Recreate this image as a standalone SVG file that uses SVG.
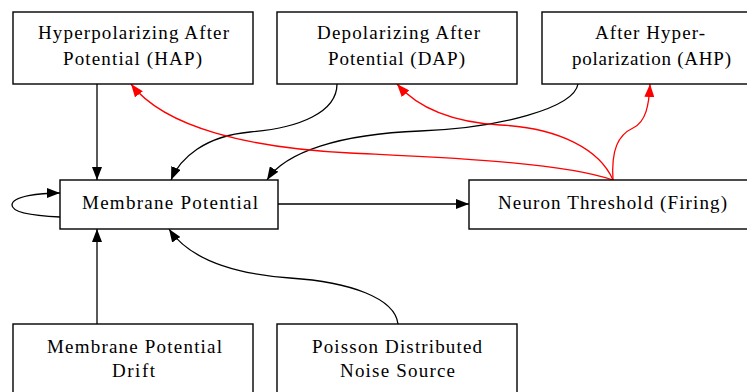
<svg xmlns="http://www.w3.org/2000/svg" width="747" height="392" viewBox="0 0 747 392">
<style>
.box{fill:#fff;stroke:#000;stroke-width:1.4}
.t{font-family:"Liberation Serif","Times New Roman",serif;font-size:19px;fill:#000}
.e{fill:none;stroke:#000;stroke-width:1.3}
.r{fill:none;stroke:#f00;stroke-width:1.3}
</style>
<defs>
<marker id="ab" viewBox="0 0 13 10" refX="13" refY="5" markerWidth="13" markerHeight="10" markerUnits="userSpaceOnUse" orient="auto">
<path d="M0,0 L13,5 L0,10 z" fill="#000"/>
</marker>
<marker id="ar" viewBox="0 0 13 10" refX="13" refY="5" markerWidth="13" markerHeight="10" markerUnits="userSpaceOnUse" orient="auto">
<path d="M0,0 L13,5 L0,10 z" fill="#f00"/>
</marker>
</defs>
<rect width="747" height="392" fill="#fff"/>
<g id="connectors">
<path class="e" d="M97,84 L97,180" marker-end="url(#ab)"/>
<path class="e" d="M337,84 C337,112 300,128 250,132 C205,136 180,158 171,180" marker-end="url(#ab)"/>
<path class="e" d="M578,84 C574,108 500,128 420,131 C340,134 285,152 267,180" marker-end="url(#ab)"/>
<path class="e" d="M60,217 C38,216 12,213 12,205 C12,196 40,193 60,193" marker-end="url(#ab)"/>
<path class="e" d="M278,204 L469,204" marker-end="url(#ab)"/>
<path class="e" d="M97,324 L97,229" marker-end="url(#ab)"/>
<path class="e" d="M398,324 C395,298 350,282 290,278 C235,274 190,260 169,229" marker-end="url(#ab)"/>
<path class="r" d="M613,180 C560,162 450,158 350,153 C250,148 165,128 131,84" marker-end="url(#ar)"/>
<path class="r" d="M613,180 C600,150 560,128 500,125 C450,122 418,108 397,84" marker-end="url(#ar)"/>
<path class="r" d="M613,180 C611,150 618,135 633,128 C646,122 649,105 650,84" marker-end="url(#ar)"/>
</g>
<g id="hap">
<rect class="box" x="13" y="12" width="240" height="72"/>
<text class="t" x="38" y="39" textLength="191" lengthAdjust="spacing">Hyperpolarizing After</text>
<text class="t" x="63" y="65" textLength="139" lengthAdjust="spacing">Potential (HAP)</text>
</g>
<g id="dap">
<rect class="box" x="277" y="12" width="240" height="72"/>
<text class="t" x="317" y="39" textLength="163" lengthAdjust="spacing">Depolarizing After</text>
<text class="t" x="328" y="65" textLength="137" lengthAdjust="spacing">Potential (DAP)</text>
</g>
<g id="ahp">
<rect class="box" x="542" y="12" width="220" height="72"/>
<text class="t" x="595" y="39" textLength="110" lengthAdjust="spacing">After Hyper-</text>
<text class="t" x="572" y="65" textLength="159" lengthAdjust="spacing">polarization (AHP)</text>
</g>
<g id="membrane">
<rect class="box" x="60" y="180" width="218" height="49"/>
<text class="t" x="82" y="209" textLength="176" lengthAdjust="spacing">Membrane Potential</text>
</g>
<g id="threshold">
<rect class="box" x="469" y="180" width="290" height="49"/>
<text class="t" x="498" y="209" textLength="229" lengthAdjust="spacing">Neuron Threshold (Firing)</text>
</g>
<g id="drift">
<rect class="box" x="13" y="324" width="240" height="80"/>
<text class="t" x="47" y="353" textLength="175" lengthAdjust="spacing">Membrane Potential</text>
<text class="t" x="112" y="377" textLength="43" lengthAdjust="spacing">Drift</text>
</g>
<g id="poisson">
<rect class="box" x="277" y="324" width="240" height="80"/>
<text class="t" x="312" y="353" textLength="170" lengthAdjust="spacing">Poisson Distributed</text>
<text class="t" x="340" y="377" textLength="115" lengthAdjust="spacing">Noise Source</text>
</g>
</svg>
